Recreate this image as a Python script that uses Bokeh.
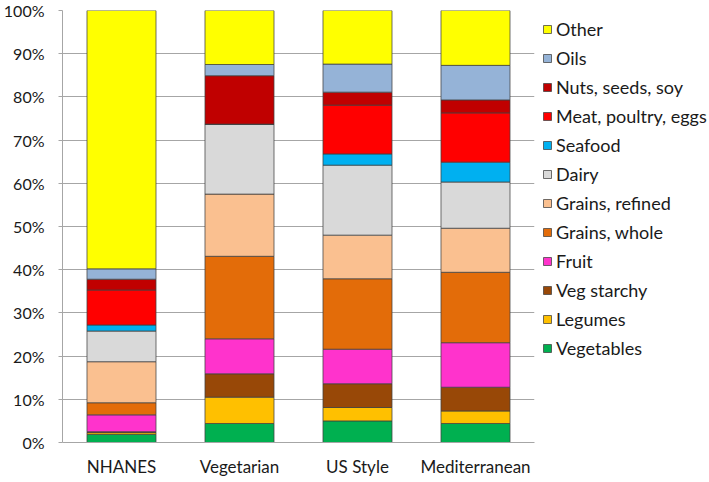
from bokeh.plotting import figure
from bokeh.layouts import row
from bokeh.models import (Range1d, FactorRange, Legend, LegendItem, PrintfTickFormatter,
                          FixedTicker, ColumnDataSource)
from bokeh.embed import file_html
from bokeh.resources import INLINE

diets = ["NHANES", "Vegetarian", "US Style", "Mediterranean"]
series = ["Vegetables", "Legumes", "Veg starchy", "Fruit", "Grains, whole", "Grains, refined",
          "Dairy", "Seafood", "Meat, poultry, eggs", "Nuts, seeds, soy", "Oils", "Other"]
vegetables = [1.9, 4.4, 5.0, 4.4]
legumes = [0.4, 6.1, 3.1, 2.9]
veg_starchy = [0.2, 5.4, 5.5, 5.5]
fruit = [3.9, 8.1, 8.0, 10.3]
grains_whole = [2.8, 19.1, 16.3, 16.3]
grains_refined = [9.5, 14.4, 10.1, 10.2]
dairy = [7.1, 16.2, 16.2, 10.7]
seafood = [1.4, 0.0, 2.6, 4.6]
meat = [8.1, 0.0, 11.3, 11.4]
nuts = [2.5, 11.2, 3.0, 3.0]
oils = [2.4, 2.6, 6.5, 8.0]
other = [59.8, 12.5, 12.4, 12.7]
y_ticks = [0, 10, 20, 30, 40, 50, 60, 70, 80, 90, 100]

colors = ["#00B050", "#FFC000", "#984807", "#FF33CC", "#E36C09", "#FAC090",
          "#D9D9D9", "#00B0F0", "#FF0000", "#C00000", "#95B3D7", "#FFFF00"]

keys = ["s%d" % i for i in range(len(series))]
data = {"diet": diets}
for k, vals in zip(keys, [vegetables, legumes, veg_starchy, fruit, grains_whole, grains_refined,
                          dairy, seafood, meat, nuts, oils, other]):
    data[k] = vals
source = ColumnDataSource(data)

FONT = "Lato"
p = figure(x_range=FactorRange(*diets, range_padding=0), y_range=Range1d(0, 100),
           frame_width=472, frame_height=432, output_backend="svg", toolbar_location=None,
           min_border_left=56, min_border_top=10, min_border_right=5, min_border_bottom=30)
p.outline_line_color = None
p.background_fill_color = "white"

bar_style = dict(width=0.585, fill_color=colors, line_color="#404040", line_width=0.75)
renderers = p.vbar_stack(keys, x="diet", source=source, **bar_style)

p.yaxis.ticker = FixedTicker(ticks=y_ticks)
p.yaxis.formatter = PrintfTickFormatter(format="%d%%")
p.yaxis.major_tick_out = 4
p.yaxis.major_tick_in = 0
p.yaxis.minor_tick_line_color = None
p.yaxis.axis_line_color = "#A6A6A6"
p.yaxis.major_tick_line_color = "#A6A6A6"
p.yaxis.major_label_standoff = 14
p.yaxis.major_label_text_font_size = "16px"
p.xaxis.major_tick_line_color = None
p.xaxis.minor_tick_line_color = None
p.xaxis.axis_line_color = "#A6A6A6"
p.xaxis.major_label_standoff = 7
p.xaxis.major_label_text_font_size = "17px"
for ax in (p.xaxis, p.yaxis):
    ax.major_label_text_font = FONT
    ax.major_label_text_color = "#1a1a1a"

p.xgrid.grid_line_color = None
p.ygrid.grid_line_color = "#A6A6A6"
p.ygrid.ticker = FixedTicker(ticks=y_ticks)

# Legend lives in a companion figure to the right; its proxy bars are hidden
lg = figure(frame_width=170, frame_height=472, min_border=0, output_backend="svg",
            toolbar_location=None, x_range=FactorRange(*diets), y_range=Range1d(0, 100))
lg.axis.visible = False
lg.grid.visible = False
lg.outline_line_color = None
proxies = lg.vbar_stack(keys, x="diet", source=source, **bar_style)
for r in proxies:
    r.visible = False

items = [LegendItem(label=name, renderers=[r]) for name, r in zip(series, proxies)][::-1]
legend = Legend(items=items, location=(3, 113), margin=0, padding=0,
                glyph_width=10, glyph_height=10, label_height=16, spacing=7,
                label_standoff=4, label_text_font=FONT, label_text_font_size="18px",
                label_text_color="#1a1a1a", border_line_color=None,
                background_fill_alpha=0, click_policy="none")
lg.add_layout(legend)

layout = row(p, lg, spacing=0)
open("out.html", "w").write(file_html(layout, INLINE))
